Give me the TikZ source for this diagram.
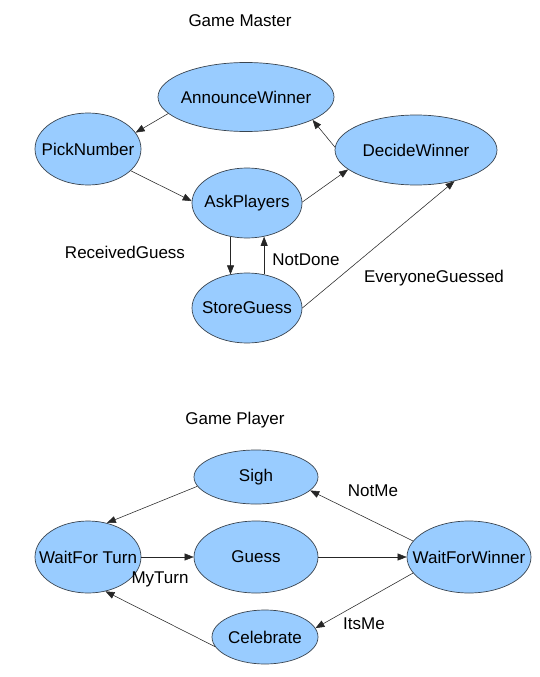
\documentclass[tikz,border=0pt]{standalone}
\usepackage{fontspec}
\setmainfont{Liberation Sans}
\usetikzlibrary{shapes.geometric,arrows.meta}
\definecolor{stfill}{HTML}{99CCFF}
\definecolor{stline}{HTML}{3A4550}
\begin{document}
\begin{tikzpicture}[x=1pt,y=-1pt,
  st/.style={ellipse, draw=stline, line width=0.7pt, fill=stfill, inner sep=0pt},
  txt/.style={font=\fontsize{17}{20}\selectfont, text=black, inner sep=0pt},
  arr/.style={draw=black!85, line width=0.55pt, -{Triangle[length=9pt,width=7pt]}}
]
\fill[white] (0,0) rectangle (539,677);
\useasboundingbox (0,0) rectangle (539,677);

% ---------------- Game Master ----------------
\node[txt] (t1) at (240,21) {Game Master};

\node[st, minimum width=176, minimum height=69] (aw) at (246,97) {};
\node[txt] (awt) at (aw) {AnnounceWinner};
\node[st, minimum width=106, minimum height=72] (pn) at (88,149) {};
\node[txt] (pnt) at (pn) {PickNumber};
\node[st, minimum width=110, minimum height=70] (ap) at (247,203) {};
\node[txt] (apt) at (ap) {AskPlayers};
\node[st, minimum width=162, minimum height=70] (dw) at (416,150) {};
\node[txt] (dwt) at (dw) {DecideWinner};
\node[st, minimum width=110, minimum height=70] (sg) at (247,308) {};
\node[txt] (sgt) at (sg) {StoreGuess};

\draw[arr] (aw.192) -- (pn.19);
\draw[arr] (pn.333) -- (ap.178);
\draw[arr] (ap.1) -- (dw.196);
\draw[arr] (dw.178) -- (aw.341);
\draw[arr] (ap.244) -- (ap.244 |- sg.117);
\draw[arr] (sg.63) -- (sg.63 |- ap.296);
\draw[arr] (sg.0) -- (dw.321);

\node[txt] (l1) at (125,252) {ReceivedGuess};
\node[txt] (l2) at (306,260) {NotDone};
\node[txt] (l3) at (434,278) {EveryoneGuessed};

% ---------------- Game Player ----------------
\node[txt] (t2) at (235,420) {Game Player};

\node[st, minimum width=124, minimum height=54] (sigh) at (256,477) {};
\node[txt] (sight) at (sigh) {Sigh};
\node[st, minimum width=106, minimum height=72] (wft) at (88,557) {};
\node[txt] (wftt) at (wft) {WaitFor Turn};
\node[st, minimum width=124, minimum height=72] (guess) at (256,557) {};
\node[txt] (guesst) at (guess) {Guess};
\node[st, minimum width=124, minimum height=72] (wfw) at (469,557) {};
\node[txt] (wfwt) at (wfw) {WaitForWinner};
\node[st, minimum width=106, minimum height=54] (cel) at (265,637) {};
\node[txt] (celt) at (cel) {Celebrate};

\draw[arr] (sigh.189) -- (wft.61);
\draw[arr] (wft.east) -- (guess.west);
\draw[arr] (guess.east) -- (wfw.west);
\draw[arr] (wfw.164) -- (sigh.346);
\draw[arr] (wfw.196) -- (cel.10);
\draw[arr] (cel.191) -- (wft.297);

\node[txt] (l4) at (373,491) {NotMe};
\node[txt] (l5) at (160,579) {MyTurn};
\node[txt] (l6) at (364,624) {ItsMe};
\end{tikzpicture}
\end{document}
